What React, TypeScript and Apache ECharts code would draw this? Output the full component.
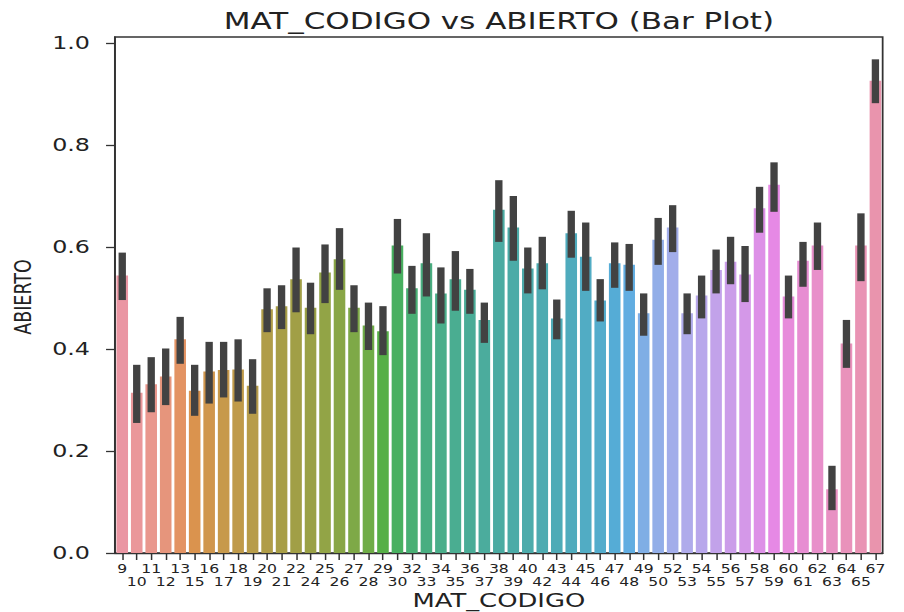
import React, { useEffect, useRef } from "react";
import * as echarts from "echarts";

// ---- data ----
const categories: string[] = [
  "9", "10", "11", "12", "13", "15", "16", "17", "18", "19", "20", "21", "22",
  "24", "25", "26", "27", "28", "29", "30", "32", "33", "34", "35", "36", "37",
  "38", "39", "40", "42", "43", "44", "45", "46", "47", "48", "49", "50", "52",
  "53", "54", "55", "56", "57", "58", "59", "60", "61", "62", "63", "64", "65", "67",
];

const meanValues: number[] = [
  0.544, 0.314, 0.331, 0.346, 0.419, 0.318, 0.356, 0.359, 0.36, 0.328,
  0.478, 0.484, 0.537, 0.481, 0.55, 0.576, 0.481, 0.446, 0.435, 0.603,
  0.519, 0.568, 0.509, 0.537, 0.516, 0.457, 0.673, 0.638, 0.558, 0.568,
  0.46, 0.627, 0.581, 0.495, 0.568, 0.565, 0.47, 0.614, 0.638, 0.47,
  0.505, 0.555, 0.571, 0.546, 0.676, 0.722, 0.503, 0.573, 0.603, 0.125,
  0.411, 0.603, 0.926,
];

const ciLow: number[] = [
  0.496, 0.255, 0.276, 0.29, 0.371, 0.269, 0.293, 0.305, 0.297, 0.273,
  0.433, 0.439, 0.472, 0.429, 0.49, 0.516, 0.433, 0.398, 0.388, 0.548,
  0.469, 0.503, 0.45, 0.475, 0.469, 0.412, 0.61, 0.573, 0.509, 0.517,
  0.419, 0.579, 0.514, 0.454, 0.52, 0.514, 0.426, 0.565, 0.59, 0.429,
  0.46, 0.509, 0.527, 0.492, 0.628, 0.669, 0.46, 0.522, 0.555, 0.084,
  0.363, 0.533, 0.882,
];

const ciHigh: number[] = [
  0.589, 0.369, 0.384, 0.401, 0.463, 0.369, 0.414, 0.414, 0.419, 0.38,
  0.519, 0.525, 0.599, 0.53, 0.605, 0.637, 0.525, 0.491, 0.484, 0.655,
  0.563, 0.627, 0.56, 0.592, 0.557, 0.491, 0.731, 0.7, 0.599, 0.62,
  0.497, 0.671, 0.648, 0.537, 0.609, 0.606, 0.509, 0.657, 0.682, 0.509,
  0.544, 0.595, 0.62, 0.602, 0.718, 0.766, 0.544, 0.61, 0.648, 0.171,
  0.457, 0.666, 0.968,
];

const yTicks: number[] = [0, 0.2, 0.4, 0.6, 0.8, 1.0];

// ---- seaborn-like husl palette ----
const M = [
  [3.2406, -1.5372, -0.4986],
  [-0.9689, 1.8758, 0.0415],
  [0.0557, -0.204, 1.057],
];
const refU = 0.19784;
const refV = 0.46834;
const labE = 0.008856;
const labK = 903.3;

function maxChroma(L: number, H: number): number {
  const hrad = (H * Math.PI) / 180;
  const sinH = Math.sin(hrad);
  const cosH = Math.cos(hrad);
  const sub1 = Math.pow(L + 16, 3) / 1560896.0;
  const sub2 = sub1 > labE ? sub1 : L / labK;
  let result = Infinity;
  for (const row of M) {
    const [m1, m2, m3] = row;
    const top = (0.99915 * m1 + 1.05122 * m2 + 1.1446 * m3) * sub2;
    const rbottom = 0.8633 * m3 - 0.17266 * m2;
    const lbottom = 0.12949 * m3 - 0.38848 * m1;
    const bottom = (rbottom * sinH + lbottom * cosH) * sub2;
    for (const t of [0, 1]) {
      const C = (L * (top - 1.05122 * t)) / (bottom + 0.17266 * sinH * t);
      if (C > 0 && C < result) result = C;
    }
  }
  return result;
}

function fInv(t: number): number {
  const t3 = Math.pow(t, 3);
  return t3 > labE ? t3 : (116 * t - 16) / labK;
}

function fromLinear(c: number): number {
  return c <= 0.0031308 ? 12.92 * c : 1.055 * Math.pow(c, 1 / 2.4) - 0.055;
}

function huslToRgb(H: number, S: number, L: number): number[] {
  const C = (maxChroma(L, H) / 100) * S;
  const hrad = (H * Math.PI) / 180;
  const U = C * Math.cos(hrad);
  const V = C * Math.sin(hrad);
  const varY = fInv((L + 16) / 116);
  const varU = U / (13 * L) + refU;
  const varV = V / (13 * L) + refV;
  const Y = varY;
  const X = -(9 * Y * varU) / ((varU - 4) * varV - varU * varV);
  const Z = (9 * Y - 15 * varV * Y - varV * X) / (3 * varV);
  return M.map((r) => {
    const c = fromLinear(r[0] * X + r[1] * Y + r[2] * Z);
    return Math.min(1, Math.max(0, c));
  });
}

function rgbToHls(r: number, g: number, b: number): number[] {
  const maxc = Math.max(r, g, b);
  const minc = Math.min(r, g, b);
  const l = (minc + maxc) / 2;
  if (minc === maxc) return [0, l, 0];
  const s = l <= 0.5 ? (maxc - minc) / (maxc + minc) : (maxc - minc) / (2 - maxc - minc);
  const rc = (maxc - r) / (maxc - minc);
  const gc = (maxc - g) / (maxc - minc);
  const bc = (maxc - b) / (maxc - minc);
  let h: number;
  if (r === maxc) h = bc - gc;
  else if (g === maxc) h = 2 + rc - bc;
  else h = 4 + gc - rc;
  h = (((h / 6) % 1) + 1) % 1;
  return [h, l, s];
}

function hv(m1: number, m2: number, hue: number): number {
  hue = ((hue % 1) + 1) % 1;
  if (hue < 1 / 6) return m1 + (m2 - m1) * hue * 6;
  if (hue < 0.5) return m2;
  if (hue < 2 / 3) return m1 + (m2 - m1) * (2 / 3 - hue) * 6;
  return m1;
}

function hlsToRgb(h: number, l: number, s: number): number[] {
  if (s === 0) return [l, l, l];
  const m2 = l <= 0.5 ? l * (1 + s) : l + s - l * s;
  const m1 = 2 * l - m2;
  return [hv(m1, m2, h + 1 / 3), hv(m1, m2, h), hv(m1, m2, h - 1 / 3)];
}

function buildPalette(n: number): string[] {
  const out: string[] = [];
  for (let i = 0; i < n; i++) {
    const hue = ((i / n + 0.01) % 1) * 359;
    const rgb = huslToRgb(hue, 0.9 * 99, 0.7 * 99);
    const [h, l, s] = rgbToHls(rgb[0], rgb[1], rgb[2]);
    const d = hlsToRgb(h, l, s * 0.75);
    const hex = d
      .map((c) => Math.round(Math.min(1, Math.max(0, c)) * 255).toString(16).padStart(2, "0"))
      .join("");
    out.push("#" + hex);
  }
  return out;
}

// ---- layout (inner, un-stretched coordinates) ----
const OUTER_W = 904;
const OUTER_H = 612;
const INNER_W = 665;
const STRETCH = OUTER_W / INNER_W;

export default function App() {
  const ref = useRef<HTMLDivElement | null>(null);

  useEffect(() => {
    if (!ref.current) return;
    const chart = echarts.init(ref.current, undefined, { renderer: "svg" });
    const palette = buildPalette(categories.length);
    const textColor = "#222222";
    const font = "DejaVu Sans";
    const tickFont = 11.5;

    const barData = meanValues.map((v, i) => ({
      value: v,
      itemStyle: { color: palette[i] },
    }));
    const errData = categories.map((_, i) => [i, ciLow[i], ciHigh[i]]);

    const labelBase = {
      hideOverlap: false,
      fontSize: tickFont,
      fontFamily: font,
      color: textColor,
    };

    const option: any = {
      animation: false,
      backgroundColor: "#ffffff",
      grid: {
        left: 84.6,
        right: 15.7,
        top: 37,
        bottom: 59,
        show: true,
        borderColor: "#333333",
        borderWidth: 1.3,
        backgroundColor: "transparent",
      },
      xAxis: [
        {
          type: "category",
          data: categories,
          boundaryGap: true,
          axisLine: { show: true, lineStyle: { color: "#333333", width: 1.3 } },
          axisTick: {
            show: true,
            alignWithLabel: true,
            interval: 0,
            length: 7,
            lineStyle: { color: "#333333", width: 1.1 },
          },
          axisLabel: {
            ...labelBase,
            interval: (index: number) => index % 2 === 0,
            margin: 9.5,
          },
          splitLine: { show: false },
        },
        {
          type: "category",
          data: categories,
          boundaryGap: true,
          position: "bottom",
          axisLine: { show: false },
          axisTick: { show: false },
          axisLabel: {
            ...labelBase,
            interval: (index: number) => index % 2 === 1,
            margin: 22.5,
          },
          splitLine: { show: false },
        },
      ],
      yAxis: {
        type: "value",
        min: 0,
        max: 1.01176,
        axisLine: { show: true, lineStyle: { color: "#333333", width: 1.3 } },
        axisTick: {
          show: true,
          length: 6.6,
          customValues: yTicks,
          lineStyle: { color: "#333333", width: 1.3 },
        },
        axisLabel: {
          customValues: yTicks,
          margin: 18.4,
          fontSize: 17.5,
          fontFamily: font,
          color: textColor,
          formatter: (v: number) => v.toFixed(1),
        },
        splitLine: { show: false },
      },
      series: [
        {
          type: "bar",
          data: barData,
          xAxisIndex: 0,
          barCategoryGap: "20%",
          itemStyle: { borderWidth: 0 },
          z: 2,
        },
        {
          type: "custom",
          data: errData,
          xAxisIndex: 0,
          encode: { x: 0, y: [1, 2] },
          z: 3,
          renderItem: (params: any, api: any) => {
            const idx = api.value(0);
            const lo = api.coord([idx, api.value(1)]);
            const hi = api.coord([idx, api.value(2)]);
            const w = 5.4;
            return {
              type: "rect",
              shape: { x: lo[0] - w / 2, y: hi[1], width: w, height: lo[1] - hi[1] },
              style: { fill: "#424242" },
            };
          },
        },
      ],
      graphic: [
        {
          type: "text",
          x: 367,
          y: 21,
          style: {
            text: "MAT_CODIGO vs ABIERTO (Bar Plot)",
            fontSize: 22.8,
            fontFamily: font,
            fill: textColor,
            align: "center",
            verticalAlign: "middle",
          },
        },
        {
          type: "text",
          x: 367,
          y: 600,
          style: {
            text: "MAT_CODIGO",
            fontSize: 19,
            fontFamily: font,
            fill: textColor,
            align: "center",
            verticalAlign: "middle",
          },
        },
        {
          type: "text",
          x: 17,
          y: 297,
          rotation: Math.PI / 2,
          style: {
            text: "ABIERTO",
            fontSize: 17.5,
            fontFamily: font,
            fill: textColor,
            align: "center",
            verticalAlign: "middle",
          },
        },
      ],
    };

    chart.setOption(option);
    return () => {
      chart.dispose();
    };
  }, []);

  return (
    <div
      style={{
        position: "fixed",
        left: 0,
        top: 0,
        width: OUTER_W,
        height: OUTER_H,
        overflow: "hidden",
        background: "#ffffff",
      }}
    >
      <div
        ref={ref}
        style={{
          width: INNER_W,
          height: OUTER_H,
          transform: `scaleX(${STRETCH})`,
          transformOrigin: "0 0",
        }}
      />
    </div>
  );
}
